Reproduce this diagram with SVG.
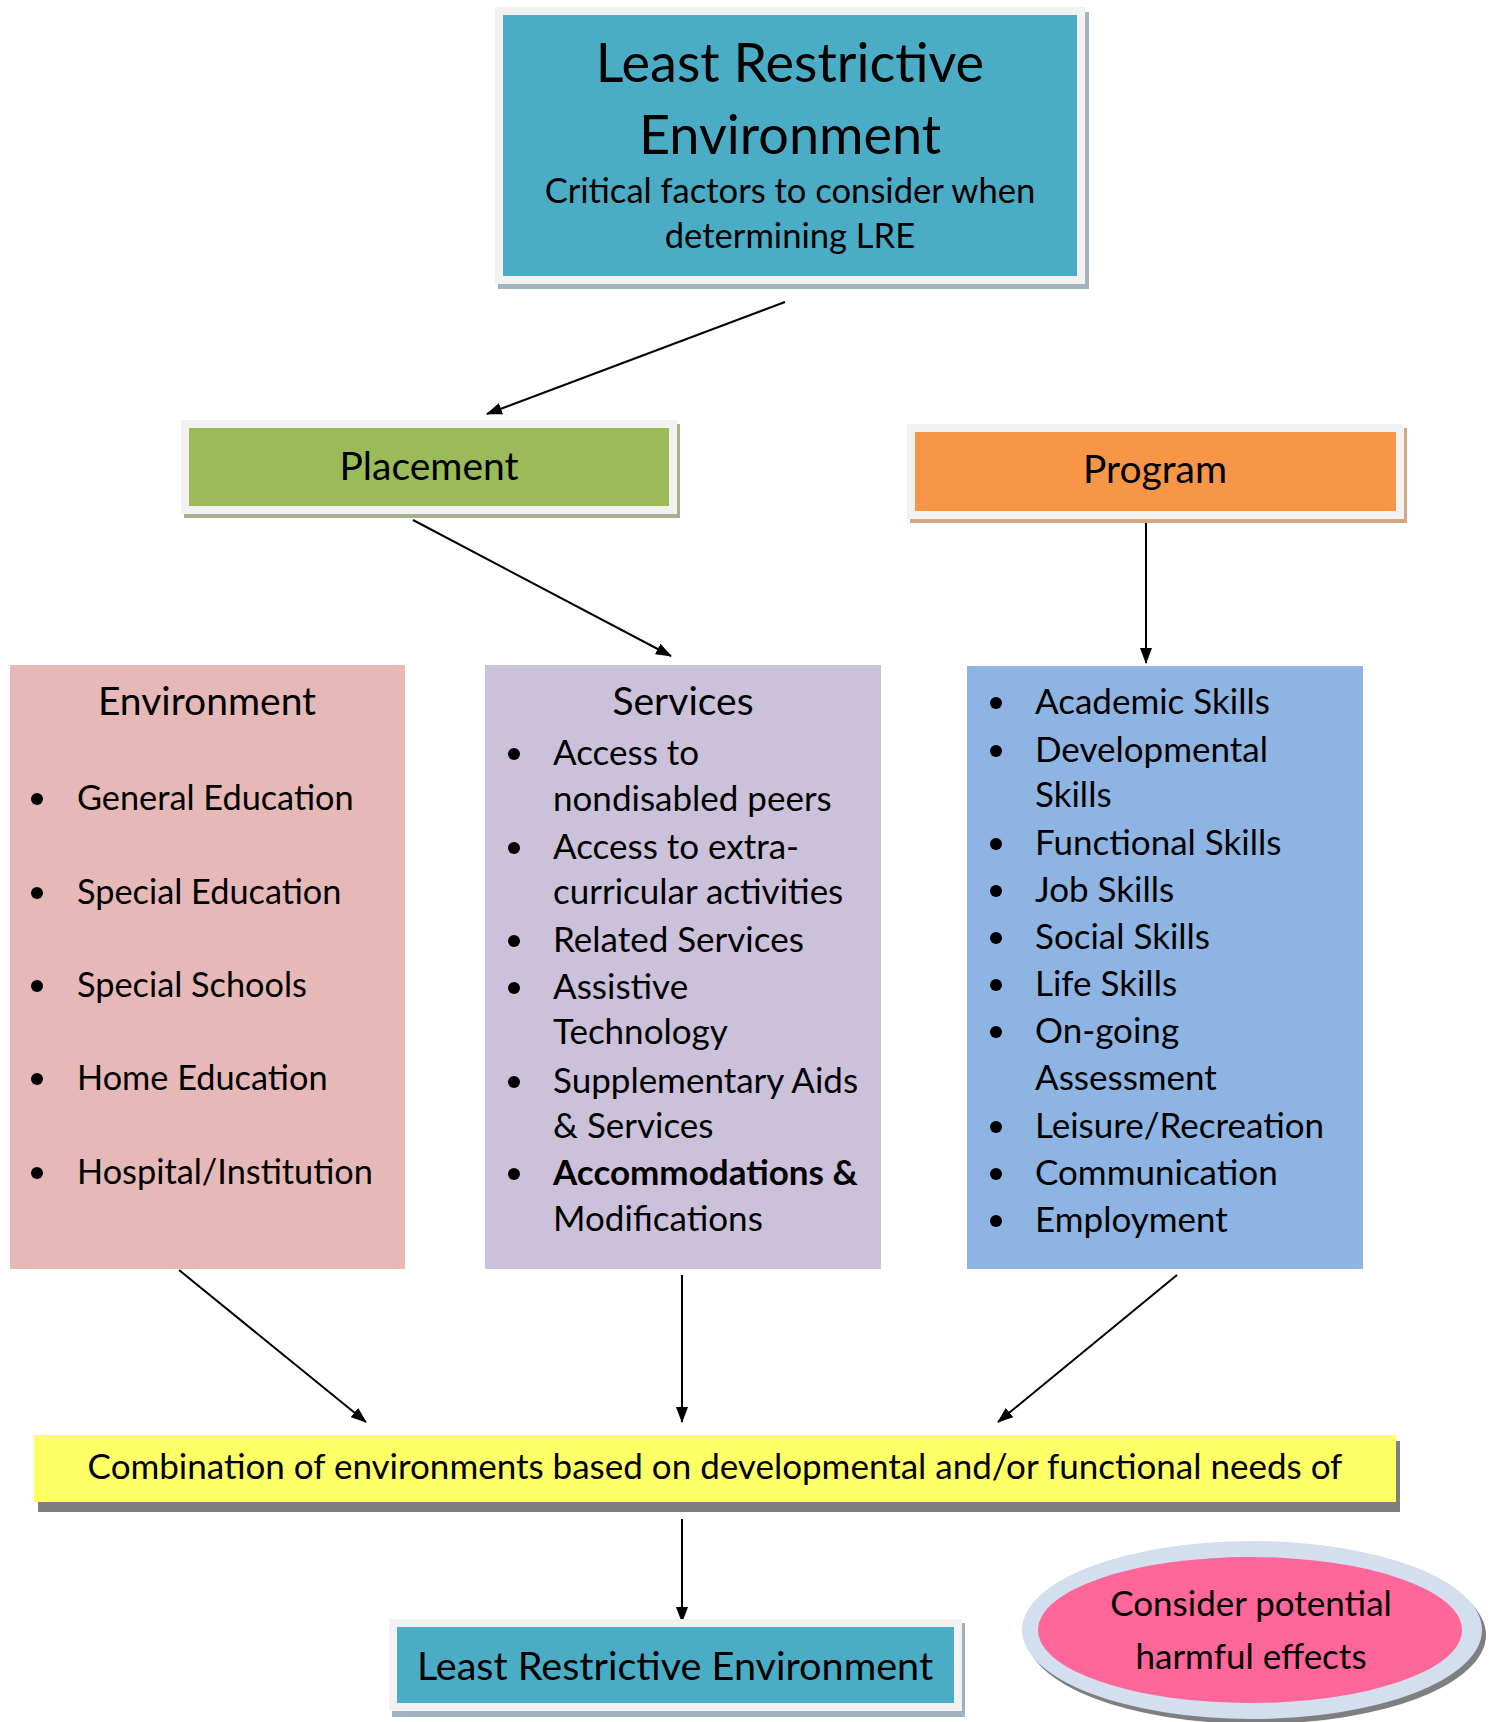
<svg xmlns="http://www.w3.org/2000/svg" width="1490" height="1722" viewBox="0 0 1490 1722">
<defs>
<marker id="ah" markerUnits="userSpaceOnUse" markerWidth="16" markerHeight="12" refX="15" refY="6" orient="auto">
<path d="M0,0 L16,6 L0,12 z" fill="#000"/>
</marker>
<style>
text{font-family:Lato,"Liberation Sans",sans-serif;fill:#000}
.c{text-anchor:middle}
.title{font-size:54px}
.sub{font-size:34.6px}
.hdr{font-size:39px}
.body{font-size:35px}
.envb{font-size:34.3px}
.bold{font-weight:bold}
.frame{fill:#f2f2f2}
circle{fill:#000}
.conn line{stroke:#000;stroke-width:2;marker-end:url(#ah)}
</style>
</defs>
<rect width="1490" height="1722" fill="#fff"/>

<g id="connectors" class="conn">
<line x1="785" y1="302" x2="487" y2="414"/>
<line x1="413" y1="520" x2="671" y2="656"/>
<line x1="1146" y1="522" x2="1146" y2="663"/>
<line x1="179" y1="1270" x2="366" y2="1422"/>
<line x1="682" y1="1275" x2="682" y2="1422"/>
<line x1="1177" y1="1275" x2="998" y2="1422"/>
<line x1="682" y1="1519" x2="682" y2="1622"/>
</g>

<g id="lre-top">
<rect x="498" y="12" width="591" height="277" fill="#a3b4c0"/>
<rect class="frame" x="495" y="7" width="590" height="277"/>
<rect x="503" y="15" width="574" height="261" fill="#4bacc6"/>
<text class="title c" x="790" y="82">Least Restrictive</text>
<text class="title c" x="790" y="154">Environment</text>
<text class="sub c" x="790" y="203">Critical factors to consider when</text>
<text class="sub c" x="790" y="248">determining LRE</text>
</g>

<g id="placement">
<rect x="184" y="424" width="496" height="94" fill="#a6b08f"/>
<rect class="frame" x="181" y="420" width="496" height="94"/>
<rect x="189" y="428" width="480" height="78" fill="#9bbb59"/>
<text class="hdr c" x="429" y="480">Placement</text>
</g>

<g id="program">
<rect x="910" y="428" width="497" height="95" fill="#d5a680"/>
<rect class="frame" x="907" y="424" width="497" height="95"/>
<rect x="915" y="432" width="481" height="79" fill="#f79646"/>
<text class="hdr c" x="1155" y="483">Program</text>
</g>

<g id="environment">
<rect x="10" y="665" width="395" height="604" fill="#e6b9b8"/>
<text class="hdr c" x="207" y="715">Environment</text>
<g class="envb">
<circle cx="37" cy="799" r="6"/><text x="77" y="810">General Education</text>
<circle cx="37" cy="893" r="6"/><text x="77" y="904">Special Education</text>
<circle cx="37" cy="986" r="6"/><text x="77" y="997">Special Schools</text>
<circle cx="37" cy="1079" r="6"/><text x="77" y="1090">Home Education</text>
<circle cx="37" cy="1173" r="6"/><text x="77" y="1184">Hospital/Institution</text>
</g>
</g>

<g id="services">
<rect x="485" y="665" width="396" height="604" fill="#ccc1da"/>
<text class="hdr c" x="683" y="715">Services</text>
<g class="body">
<circle cx="514" cy="754" r="6"/><text x="553" y="765">Access to</text>
<text x="553" y="811">nondisabled peers</text>
<circle cx="514" cy="848" r="6"/><text x="553" y="859">Access to extra-</text>
<text x="553" y="904">curricular activities</text>
<circle cx="514" cy="941" r="6"/><text x="553" y="952">Related Services</text>
<circle cx="514" cy="988" r="6"/><text x="553" y="999">Assistive</text>
<text x="553" y="1044">Technology</text>
<circle cx="514" cy="1082" r="6"/><text x="553" y="1093">Supplementary Aids</text>
<text x="553" y="1138">&amp; Services</text>
<circle cx="514" cy="1174" r="6"/><text class="bold" x="553" y="1185">Accommodations &amp;</text>
<text x="553" y="1231">Modifications</text>
</g>
</g>

<g id="program-list">
<rect x="967" y="666" width="396" height="603" fill="#8eb4e3"/>
<g class="body">
<circle cx="996" cy="703" r="6"/><text x="1035" y="714">Academic Skills</text>
<circle cx="996" cy="751" r="6"/><text x="1035" y="762">Developmental</text>
<text x="1035" y="807">Skills</text>
<circle cx="996" cy="844" r="6"/><text x="1035" y="855">Functional Skills</text>
<circle cx="996" cy="891" r="6"/><text x="1035" y="902">Job Skills</text>
<circle cx="996" cy="938" r="6"/><text x="1035" y="949">Social Skills</text>
<circle cx="996" cy="985" r="6"/><text x="1035" y="996">Life Skills</text>
<circle cx="996" cy="1032" r="6"/><text x="1035" y="1043">On-going</text>
<text x="1035" y="1090">Assessment</text>
<circle cx="996" cy="1127" r="6"/><text x="1035" y="1138">Leisure/Recreation</text>
<circle cx="996" cy="1174" r="6"/><text x="1035" y="1185">Communication</text>
<circle cx="996" cy="1221" r="6"/><text x="1035" y="1232">Employment</text>
</g>
</g>

<g id="combination">
<rect x="38" y="1441" width="1362" height="71" fill="#7f7f7f"/>
<rect x="34" y="1435" width="1362" height="67" fill="#ffff66"/>
<text class="body c" x="715" y="1479">Combination of environments based on developmental and/or functional needs of</text>
</g>

<g id="lre-bottom">
<rect x="392" y="1623" width="573" height="94" fill="#9fb2bf"/>
<rect class="frame" x="389" y="1619" width="573" height="92"/>
<rect x="397" y="1627" width="557" height="76" fill="#4bacc6"/>
<text class="c" style="font-size:39.6px" x="675" y="1680">Least Restrictive Environment</text>
</g>

<g id="harmful">
<ellipse cx="1256" cy="1635" rx="230" ry="89" fill="#7f7f7f"/>
<ellipse cx="1252" cy="1630" rx="230" ry="89" fill="#d3dfee"/>
<ellipse cx="1250" cy="1630" rx="212" ry="73" fill="#ff6699"/>
<text class="body c" x="1251" y="1616">Consider potential</text>
<text class="body c" x="1251" y="1669">harmful effects</text>
</g>
</svg>
